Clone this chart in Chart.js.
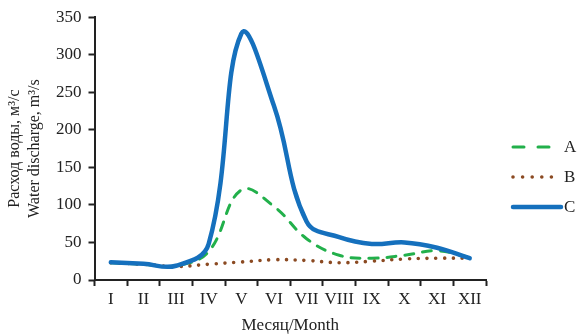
<!DOCTYPE html>
<html>
<head>
<meta charset="utf-8">
<script src="https://cdn.jsdelivr.net/npm/chart.js@4"></script>
<style>
  html, body { margin: 0; padding: 0; background: #fff; }
  #wrap { width: 578px; height: 336px; }
</style>
</head>
<body>
<div id="wrap"><canvas id="flowChart"></canvas></div>
<script>
// --- Datos ---
const months = ['I', 'II', 'III', 'IV', 'V', 'VI', 'VII', 'VIII', 'IX', 'X', 'XI', 'XII'];
const seriesA = [23, 21, 19, 38, 120, 98, 55, 33, 29, 33, 39, 30];
const seriesB = [23, 21, 18, 21, 24, 27, 26, 23, 25, 28, 29, 29];
const seriesC = [23.5, 21.5, 19, 48, 328, 232, 78, 57, 48, 50, 43, 29];
const yTicks = [0, 50, 100, 150, 200, 250, 300, 350];

const serif = "'Liberation Serif', 'DejaVu Serif', serif";

// leyenda dibujada a mano (muestras de línea)
const lineLegend = {
    id: 'lineLegend',
    afterDraw(chart) {
        const ctx = chart.ctx;
        const x0 = 513, x1 = 561;
        const rows = [147, 177, 207];
        ctx.save();
        chart.data.datasets.forEach((ds, i) => {
            const y = rows[i];
            ctx.beginPath();
            ctx.strokeStyle = ds.borderColor;
            ctx.lineWidth = ds.borderWidth;
            ctx.lineCap = ds.borderCapStyle || 'butt';
            ctx.setLineDash(ds.legendDash || []);
            ctx.moveTo(x0, y);
            ctx.lineTo(ds.legendEnd || x1, y);
            ctx.stroke();
            ctx.setLineDash([]);
            ctx.fillStyle = '#222';
            ctx.font = '17px ' + serif;
            ctx.textBaseline = 'middle';
            ctx.fillText(ds.label, x1 + 3, y + 1);
        });
        ctx.restore();
    }
};

const ctx = document.getElementById('flowChart').getContext('2d');
new Chart(ctx, {
    type: 'line',
    data: {
        labels: months,
        datasets: [
            {
                label: 'A',
                data: seriesA,
                borderColor: '#22b04b',
                borderWidth: 3,
                borderDash: [9, 9],
                legendDash: [11, 14],
                legendEnd: 551,
                borderCapStyle: 'round',
                tension: 0.4,
                pointRadius: 0,
                order: 2
            },
            {
                label: 'B',
                data: seriesB,
                borderColor: '#8b4a22',
                borderWidth: 3.6,
                borderDash: [0, 8.8],
                legendDash: [0, 9.6],
                borderCapStyle: 'round',
                tension: 0.4,
                pointRadius: 0,
                order: 1
            },
            {
                label: 'C',
                data: seriesC,
                borderColor: '#1570bd',
                borderWidth: 4.5,
                borderCapStyle: 'round',
                tension: 0.4,
                pointRadius: 0,
                order: 0
            }
        ]
    },
    options: {
        responsive: true,
        maintainAspectRatio: false,
        animation: false,
        layout: { padding: { left: 5, right: 92, top: 10, bottom: 0 } },
        plugins: {
            legend: { display: false },
            tooltip: { enabled: false }
        },
        scales: {
            x: {
                offset: true,
                afterFit(scale) { scale.height = 56; },
                grid: {
                    offset: true,
                    drawOnChartArea: false,
                    drawTicks: true,
                    tickLength: 6,
                    tickWidth: 2,
                    tickColor: '#222'
                },
                border: { color: '#222', width: 2 },
                ticks: {
                    color: '#222',
                    font: { family: serif, size: 17 },
                    padding: 3,
                    maxRotation: 0,
                    autoSkip: false
                },
                title: {
                    display: true,
                    text: 'Месяц/Month',
                    color: '#222',
                    font: { family: serif, size: 17 },
                    padding: { top: 0, bottom: 0 }
                }
            },
            y: {
                min: 0,
                max: 350,
                afterBuildTicks(axis) {
                    axis.ticks = yTicks.map(v => ({ value: v }));
                },
                grid: {
                    drawOnChartArea: false,
                    drawTicks: true,
                    tickLength: 6,
                    tickWidth: 2,
                    tickColor: '#222'
                },
                border: { color: '#222', width: 2 },
                ticks: {
                    color: '#222',
                    font: { family: serif, size: 17 },
                    padding: 7
                },
                title: {
                    display: true,
                    text: ['Расход воды, м³/с', 'Water discharge, m³/s'],
                    color: '#222',
                    font: { family: serif, size: 16, lineHeight: 1.25 },
                    padding: { top: 0, bottom: 4 }
                }
            }
        }
    },
    plugins: [lineLegend]
});
</script>
</body>
</html>
